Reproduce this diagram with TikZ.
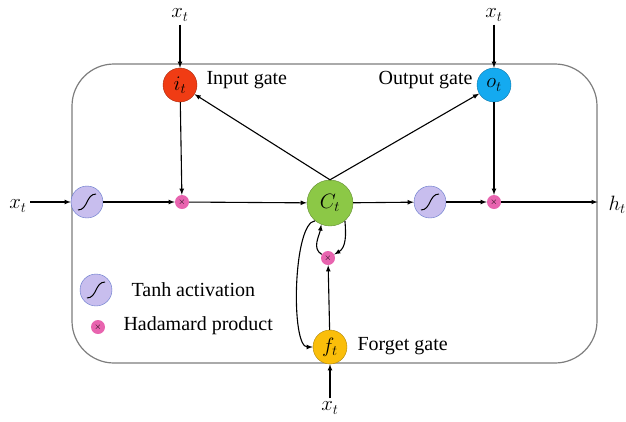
\documentclass[tikz,border=0pt]{standalone}
\usepackage{fontspec}
\setmainfont{Liberation Serif}

\definecolor{tanhfill}{RGB}{200,190,238}
\definecolor{tanhedge}{RGB}{95,115,200}
\definecolor{hadfill}{RGB}{232,100,175}
\definecolor{igate}{RGB}{240,60,20}
\definecolor{ogate}{RGB}{20,170,240}
\definecolor{cgate}{RGB}{140,200,70}
\definecolor{fgate}{RGB}{250,190,10}
\definecolor{boxgray}{RGB}{125,125,125}

\tikzset{
  cellbox/.style={draw=boxgray, line width=1.2pt, rounded corners=42pt,
    minimum width=525pt, minimum height=299pt, inner sep=0pt},
  tanhnode/.style={circle, draw=tanhedge, fill=tanhfill, minimum size=32pt, inner sep=0pt,
    path picture={\draw[black, line width=1pt]
      ([shift={(-9pt,-8pt)}]path picture bounding box.center)
      .. controls +(10pt,0pt) and +(-10pt,0pt) ..
      ([shift={(9pt,8pt)}]path picture bounding box.center);}},
  hadnode/.style={circle, fill=hadfill, minimum size=14pt, inner sep=0pt,
    font=\fontsize{9}{9}\selectfont},
  gatenode/.style={circle, draw=#1!70!black, fill=#1, minimum size=34pt, inner sep=0pt,
    font=\fontsize{22}{24}\selectfont},
  arr/.style={-latex, line width=1.1pt},
}

\begin{document}
\begin{tikzpicture}[x=1pt,y=-1pt,font=\fontsize{20}{24}\selectfont]
\useasboundingbox (0,0) rectangle (626,421);

% cell outline
\node[cellbox] (cell) at (334.5,213.5) {};

% main line
\node (xl) at (18,206) {$x_t$};
\node[tanhnode] (t1) at (87,202) {};
\node[hadnode] (h1) at (182,202) {$\times$};
\node[gatenode=cgate, minimum size=46pt] (ct) at (330,203) {$C_t$};
\node[tanhnode] (t2) at (430,202) {};
\node[hadnode] (h2) at (494,202) {$\times$};
\node[anchor=west] (ht) at (605,205) {$h_t$};

\draw[arr] (xl.east |- t1.west) -- (t1.west);
\draw[arr] (t1) -- (h1);
\draw[arr] (h1) -- (ct);
\draw[arr] (ct) -- (t2);
\draw[arr] (t2) -- (h2);
\draw[arr] (h2) -- (h2 -| cell.east);

% input gate
\node[gatenode=igate] (it) at (180,85) {$i_t$};
\node (xi) at (180,15) {$x_t$};
\node[anchor=west] (itl) at (203,80) {Input gate};
\draw[arr] (xi) -- (it);
\draw[arr] (it) -- (h1);
\draw[arr] (ct.north) -- (it);

% output gate
\node[gatenode=ogate] (ot) at (494,85) {$o_t$};
\node (xo) at (494,15) {$x_t$};
\node[anchor=east] (otl) at (476,80) {Output gate};
\draw[arr] (xo) -- (ot);
\draw[arr] (ot) -- (h2);
\draw[arr] (ct.north) -- (ot);

% forget gate
\node[gatenode=fgate] (ft) at (330,347) {$f_t$};
\node (xf) at (330,408) {$x_t$};
\node[anchor=west] (ftl) at (354,346) {Forget gate};
\node[hadnode] (h3) at (328,258) {$\times$};
\draw[arr] (xf) -- (ft);
\draw[arr] (ft) -- (h3);
\draw[arr] (ct.-50) to[out=-85,in=30] (h3);
\draw[arr] (h3) to[out=150,in=-100] (ct.-112);
\draw[arr] (ct.-130) to[out=185,in=180,looseness=0.45] (ft.west);

% legend
\node[tanhnode] (lt) at (96,290) {};
\node[anchor=west] (ltl) at (128,290) {Tanh activation};
\node[hadnode] (lh) at (98,327) {$\times$};
\node[anchor=west] (lhl) at (120,326) {Hadamard product};

\end{tikzpicture}
\end{document}
